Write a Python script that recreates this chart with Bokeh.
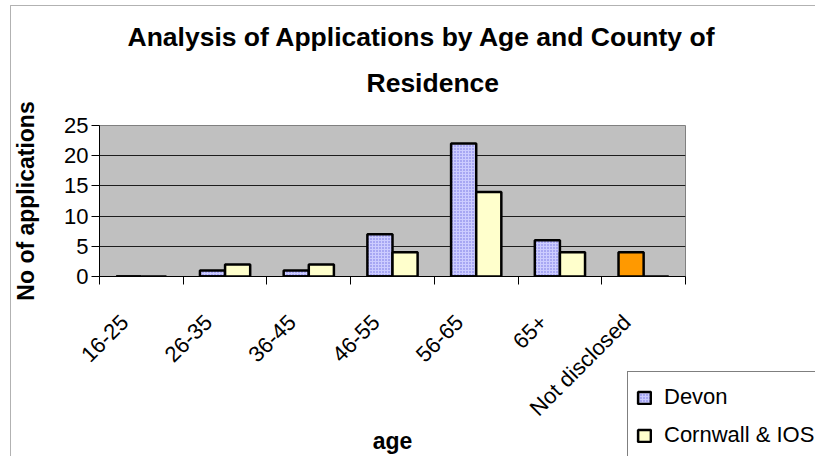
import math
from bokeh.plotting import figure
from bokeh.layouts import column
from bokeh.models import FixedTicker, Title, Legend, LegendItem, BoxAnnotation, Column
from bokeh.embed import file_html
from bokeh.resources import INLINE

# ---- data ----
categories = ["16-25", "26-35", "36-45", "46-55", "56-65", "65+", "Not disclosed"]
devon = [0, 1, 1, 7, 22, 6, 0]
cornwall = [0, 2, 2, 4, 14, 4, 0]
not_disclosed = [0, 0, 0, 0, 0, 0, 4]
y_ticks = [0, 5, 10, 15, 20, 25]

title_line1 = "Analysis of Applications by Age and County of"
title_line2 = "Residence"
x_label = "age"
y_label = "No of applications"
series_names = ["Devon", "Cornwall & IOS"]

FONT = "Liberation Sans"
W, H = 815, 456

DEVON_STYLE = dict(fill_color="#ccccff", line_color="black", line_width=2.5,
                   hatch_pattern="dot", hatch_color="#7070e0", hatch_scale=3, hatch_weight=1)
CORN_STYLE = dict(fill_color="#ffffcc", line_color="black", line_width=2.5)
ND_STYLE = dict(fill_color="#ff9900", line_color="black", line_width=2.5)

n = len(categories)
centers = [i + 0.5 for i in range(n)]
bar_w = 0.3
label_shift = 0.2          # rotated labels sit a little left of the category centre
devon_x = [c - bar_w / 2 for c in centers]
corn_x = [c + bar_w / 2 for c in centers]
label_pos = [c - label_shift for c in centers]

# ---------------- main chart ----------------
p = figure(width=W, height=H, x_range=(0, n), y_range=(0, 25),
           output_backend="svg", toolbar_location=None, title=None,
           min_border_left=99, min_border_right=130,
           min_border_top=125, min_border_bottom=174)

p.background_fill_color = "#c0c0c0"
p.border_fill_color = "white"
p.outline_line_color = "#808080"
p.outline_line_width = 1

p.vbar(x=devon_x, top=devon, width=bar_w, bottom=0, **DEVON_STYLE)
p.vbar(x=corn_x, top=cornwall, width=bar_w, bottom=0, **CORN_STYLE)
p.vbar(x=devon_x, top=not_disclosed, width=bar_w, bottom=0, **ND_STYLE)

p.xgrid.visible = False
p.ygrid.ticker = FixedTicker(ticks=y_ticks)
p.ygrid.grid_line_color = "black"
p.ygrid.grid_line_width = 1
p.ygrid.grid_line_alpha = 0.85

# x axis: labels near category centres, tick marks at category boundaries
p.xaxis.ticker = FixedTicker(ticks=label_pos, minor_ticks=list(range(n + 1)))
p.xaxis.major_label_overrides = {t: lab for t, lab in zip(label_pos, categories)}
p.xaxis.major_label_orientation = math.pi / 4
p.xaxis.major_tick_out = 0
p.xaxis.major_tick_in = 0
p.xaxis.minor_tick_out = 8
p.xaxis.minor_tick_in = 0
p.xaxis.minor_tick_line_color = "black"
p.xaxis.major_label_standoff = 34
p.xaxis.axis_label = x_label
p.xaxis.axis_label_standoff = -5

p.yaxis.ticker = FixedTicker(ticks=y_ticks, minor_ticks=[])
p.yaxis.major_tick_out = 8
p.yaxis.major_tick_in = 0
p.yaxis.minor_tick_line_color = None
p.yaxis.major_label_standoff = 3
p.yaxis.axis_label = y_label
p.yaxis.axis_label_standoff = 22

for ax in (p.xaxis[0], p.yaxis[0]):
    ax.axis_line_color = "black"
    ax.axis_line_width = 1
    ax.major_tick_line_color = "black"
    ax.major_label_text_font = FONT
    ax.major_label_text_font_size = "22px"
    ax.major_label_text_color = "black"
    ax.axis_label_text_font = FONT
    ax.axis_label_text_font_size = "23px"
    ax.axis_label_text_font_style = "bold"
    ax.axis_label_text_color = "black"

# titles (closest to the frame added first)
p.add_layout(Title(text=title_line2, align="left", offset=267, standoff=55,
                   text_font=FONT, text_font_size="26.5px", text_font_style="bold",
                   text_color="black"), "above")
p.add_layout(Title(text=title_line1, align="left", offset=28, standoff=-27,
                   text_font=FONT, text_font_size="26.5px", text_font_style="bold",
                   text_color="black"), "above")

# ---------------- transparent overlay (legend + chart border) ----------------
ov = figure(width=W, height=H, x_range=(0, 1), y_range=(0, 1),
            output_backend="svg", toolbar_location=None, title=None,
            x_axis_type=None, y_axis_type=None, min_border=0)
ov.background_fill_alpha = 0
ov.border_fill_alpha = 0
ov.outline_line_color = None

# hidden copies of the two series, used only to draw the legend swatches
proxy_devon = ov.vbar(x=devon_x, top=devon, width=bar_w, bottom=0, visible=False, **DEVON_STYLE)
proxy_corn = ov.vbar(x=corn_x, top=cornwall, width=bar_w, bottom=0, visible=False, **CORN_STYLE)

legend = Legend(items=[LegendItem(label=series_names[0], renderers=[proxy_devon]),
                       LegendItem(label=series_names[1], renderers=[proxy_corn])],
                location=(627, -5), orientation="vertical",
                border_line_color="black", border_line_width=1,
                background_fill_color="white", background_fill_alpha=1,
                label_text_font=FONT, label_text_font_size="22px",
                label_text_color="black",
                glyph_width=16, glyph_height=15, label_height=34,
                padding=8, spacing=4, label_standoff=12, margin=0)
ov.add_layout(legend, "center")

ov.add_layout(BoxAnnotation(left=10, right=900, top=5, bottom=900,
                            left_units="canvas", right_units="canvas",
                            top_units="canvas", bottom_units="canvas",
                            fill_alpha=0, line_color="black", line_width=1))

inner = Column(children=[ov], margin=(-H, 0, 0, 0))
layout = column(p, inner)

open("out.html", "w").write(file_html(layout, INLINE))
